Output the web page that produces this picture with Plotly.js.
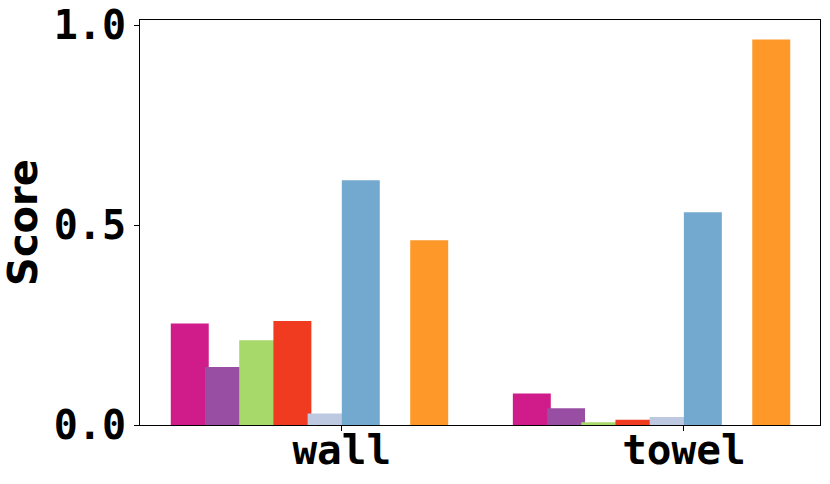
<!DOCTYPE html>
<html>
<head>
<meta charset="utf-8">
<script src="https://cdn.plot.ly/plotly-3.0.1.min.js"></script>
<style>
  html, body { margin: 0; padding: 0; background: #fff; }
  #chart { width: 830px; height: 484px; }
</style>
</head>
<body>
<div id="chart"></div>
<script>
// categories on the x axis
const categories = ['wall', 'towel'];

// one value per category, per series
const seriesNames = ['S1', 'S2', 'S3', 'S4', 'S5', 'S6', 'S7'];
const s1 = [0.254, 0.079];
const s2 = [0.145, 0.042];
const s3 = [0.212, 0.007];
const s4 = [0.260, 0.013];
const s5 = [0.029, 0.020];
const s6 = [0.612, 0.532];
const s7 = [0.462, 0.964];
const seriesValues = [s1, s2, s3, s4, s5, s6, s7];

const colors = ['#d01c8b', '#984ea3', '#a6d96a', '#f03b20', '#bdc9e1', '#74a9cf', '#fe9929'];
// slot of each series inside the group (slot 6 is left empty)
const slots = [0, 1, 2, 3, 4, 5, 7];

const traces = seriesValues.map((vals, i) => ({
    type: 'bar',
    name: seriesNames[i],
    x: categories,
    y: vals,
    offset: -0.5 + slots[i] * 0.1,
    width: 0.111,
    marker: { color: colors[i], line: { width: 0 } },
    hoverinfo: 'x+y'
}));

const layout = {
    width: 830,
    height: 484,
    margin: { l: 140, r: 10, t: 20, b: 59 },
    paper_bgcolor: '#fff',
    plot_bgcolor: '#fff',
    barmode: 'overlay',
    showlegend: false,
    xaxis: {
        type: 'category',
        range: [-0.59, 1.398],
        showline: true,
        linecolor: '#000',
        linewidth: 1,
        mirror: true,
        showgrid: false,
        zeroline: false,
        ticks: 'outside',
        ticklen: 5,
        tickcolor: '#000',
        ticklabelstandoff: -16,
        tickfont: { family: 'DejaVu Sans Mono', size: 41, color: '#000', weight: 'bold' }
    },
    yaxis: {
        range: [0, 1.0125],
        tickvals: [0, 0.5, 1.0],
        ticktext: ['0.0', '0.5', '1.0'],
        showline: true,
        linecolor: '#000',
        linewidth: 1,
        mirror: true,
        showgrid: false,
        zeroline: false,
        ticks: 'outside',
        ticklen: 5,
        tickcolor: '#000',
        tickfont: { family: 'DejaVu Sans Mono', size: 40, color: '#000', weight: 'bold' },
        title: {
            text: 'Score',
            standoff: 8,
            font: { family: 'DejaVu Sans', size: 40, color: '#000', weight: 'bold' }
        }
    }
};

Plotly.newPlot('chart', traces, layout, { displayModeBar: false });
</script>
</body>
</html>
